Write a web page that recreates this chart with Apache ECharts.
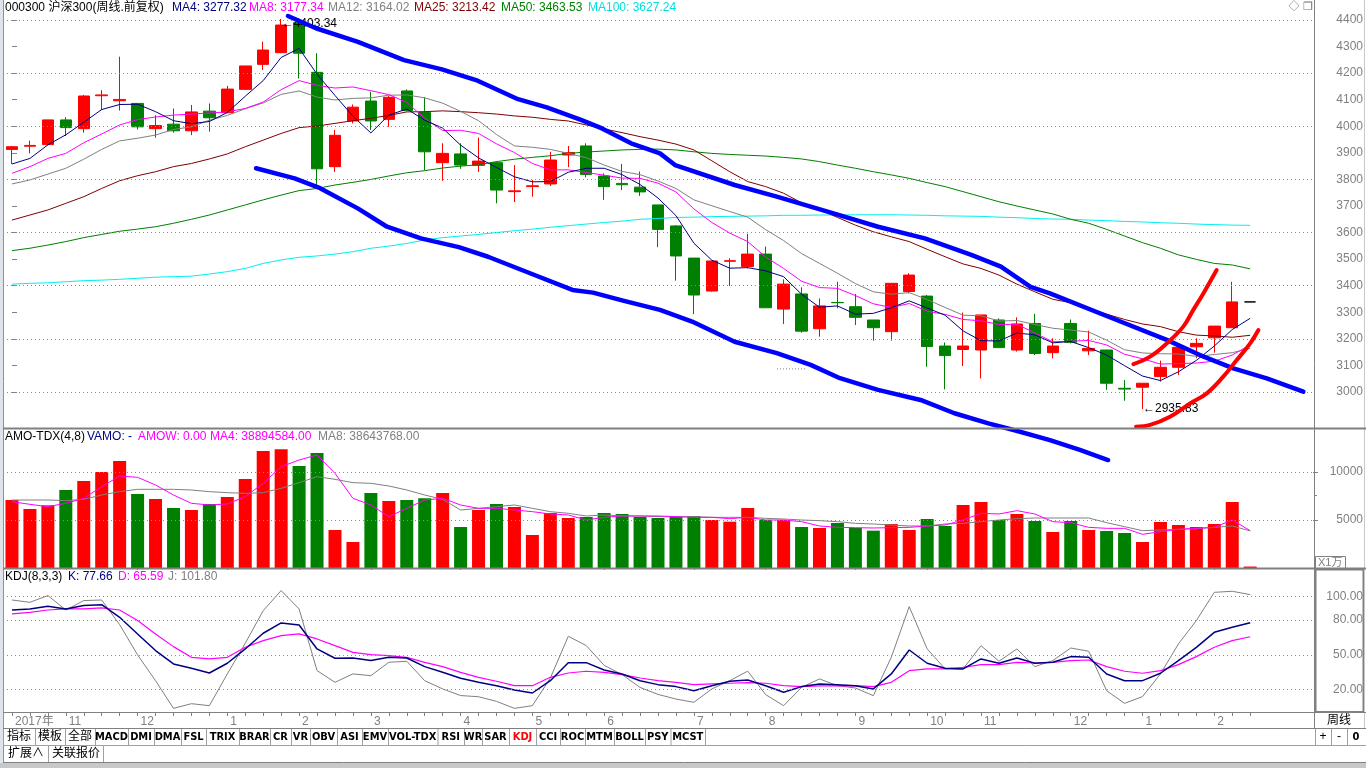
<!DOCTYPE html>
<html><head><meta charset="utf-8">
<script src="https://cdn.jsdelivr.net/npm/echarts@6/dist/echarts.min.js"></script>
<style>html,body{margin:0;padding:0;background:#fff;overflow:hidden}#c{width:1366px;height:768px}</style>
</head><body><div id="c"></div>
<script>
// ---------------- DATA ----------------
const weeks = ['2017-10-13','2017-10-20','2017-10-27','2017-11-03','2017-11-10','2017-11-17','2017-11-24','2017-12-01','2017-12-08','2017-12-15','2017-12-22','2017-12-29','2018-01-05','2018-01-12','2018-01-19','2018-01-26','2018-02-02','2018-02-09','2018-02-14','2018-02-23','2018-03-02','2018-03-09','2018-03-16','2018-03-23','2018-03-30','2018-04-04','2018-04-13','2018-04-20','2018-04-27','2018-05-04','2018-05-11','2018-05-18','2018-05-25','2018-06-01','2018-06-08','2018-06-15','2018-06-22','2018-06-29','2018-07-06','2018-07-13','2018-07-20','2018-07-27','2018-08-03','2018-08-10','2018-08-17','2018-08-24','2018-08-31','2018-09-07','2018-09-14','2018-09-21','2018-09-28','2018-10-12','2018-10-19','2018-10-26','2018-11-02','2018-11-09','2018-11-16','2018-11-23','2018-11-30','2018-12-07','2018-12-14','2018-12-21','2018-12-28','2019-01-04','2019-01-11','2019-01-18','2019-01-25','2019-02-01','2019-02-15','2019-02-22'];
const emptySlots = ['pad1','pad2','pad3'];
const opens  = [3913,3925,3931,4024,3991,4115,4096,4086,3991,4008,3983,4057,4051,4139,4233,4277,4390,4203,3848,4020,4095,4026,4133,4052,3863,3896,3853,3863,3754,3773,3783,3892,3926,3813,3785,3771,3704,3625,3504,3380,3492,3472,3519,3312,3369,3238,3337,3321,3271,3227,3378,3361,3173,3160,3158,3271,3158,3258,3148,3258,3155,3158,3014,3018,3058,3093,3170,3204,3242,3339];
const closes = [3923,3928,4024,3995,4114,4118,4101,3998,4003,3983,4054,4032,4140,4227,4287,4381,4275,3840,3966,4072,4020,4109,4059,3904,3898,3854,3869,3760,3757,3776,3873,3901,3819,3773,3780,3753,3612,3512,3365,3493,3494,3519,3317,3406,3229,3324,3336,3281,3242,3409,3440,3171,3137,3173,3290,3167,3256,3145,3173,3187,3164,3033,3011,3033,3093,3168,3183,3248,3339,3339];
const lows   = [3858,3898,3928,3963,3976,4061,4059,3988,3957,3976,3967,3980,4049,4137,4212,4275,4180,3773,3828,4011,3986,3998,4056,3835,3795,3840,3828,3710,3715,3735,3775,3846,3808,3723,3760,3738,3545,3419,3293,3378,3399,3465,3317,3256,3223,3208,3315,3252,3193,3193,3371,3095,3010,3098,3051,3167,3152,3139,3127,3183,3139,3008,2967,2935.83,3039,3064,3127,3148,3242,3339];
const highs  = [3926,3946,4024,4034,4118,4136,4262,4086,4042,4067,4080,4086,4152,4227,4318,4403.34,4395,4275,3986,4082,4130,4114,4139,4109,3936,3936,3957,3867,3854,3798,3904,3926,3936,3823,3858,3830,3704,3628,3504,3493,3503,3595,3547,3424,3394,3352,3415,3369,3271,3409,3447,3365,3186,3299,3290,3277,3281,3294,3202,3273,3231,3158,3045,3033,3118,3168,3202,3248,3415,3339];

const ma4   = [3858,3879,3930,3968,4015,4063,4082,4083,4055,4021,4010,4018,4052,4113,4172,4259,4293,4196,4116,4038,3975,4042,4065,4023,3993,3929,3881,3845,3810,3791,3792,3827,3842,3842,3818,3781,3730,3664,3560,3496,3466,3468,3456,3434,3368,3319,3324,3293,3296,3317,3343,3316,3289,3230,3193,3192,3222,3215,3185,3190,3167,3139,3099,3060,3043,3076,3119,3173,3235,3277.32];
const ma8   = [3823,3848,3879,3898,3938,3971,4005,4025,4035,4042,4046,4050,4054,4067,4091,4138,4172,4154,4144,4148,4134,4119,4090,4030,3984,3985,3973,3934,3901,3860,3836,3836,3826,3816,3805,3804,3786,3753,3689,3638,3598,3566,3508,3465,3417,3393,3390,3363,3332,3318,3333,3304,3292,3273,3268,3254,3255,3222,3189,3191,3194,3177,3142,3125,3105,3107,3109,3116,3139,3177.34];
const ma12  = [3783,3798,3820,3842,3876,3913,3945,3955,3967,3988,3998,4023,4041,4066,4088,4120,4133,4110,4099,4105,4107,4117,4118,4107,4087,4056,4021,3969,3926,3921,3913,3898,3882,3854,3830,3818,3794,3766,3723,3701,3679,3658,3611,3570,3521,3484,3447,3408,3377,3368,3374,3348,3318,3289,3287,3267,3269,3254,3240,3233,3226,3195,3159,3147,3144,3143,3134,3141,3148,3164.02];
const ma25  = [3647,3666,3685,3710,3735,3766,3795,3814,3829,3848,3860,3877,3896,3923,3948,3973,3995,4001,4011,4021,4030,4041,4054,4055,4058,4055,4051,4046,4039,4034,4026,4020,4005,3990,3976,3961,3948,3933,3911,3870,3829,3792,3773,3748,3712,3687,3657,3628,3603,3584,3566,3537,3509,3482,3465,3440,3406,3377,3349,3336,3315,3293,3273,3256,3246,3227,3214,3211,3206,3213.42];
const ma50  = [3532,3541,3553,3566,3581,3593,3605,3613,3622,3635,3650,3666,3685,3704,3723,3741,3758,3766,3779,3789,3800,3813,3825,3833,3843,3850,3855,3867,3876,3883,3889,3898,3903,3907,3911,3913,3914,3911,3904,3898,3894,3891,3888,3883,3877,3867,3854,3842,3829,3817,3804,3788,3773,3754,3735,3716,3700,3685,3670,3650,3635,3612,3587,3562,3541,3516,3499,3484,3478,3463.53];
const ma100 = [3406,3409,3411,3415,3419,3421,3424,3428,3432,3434,3436,3444,3453,3465,3484,3497,3507,3512,3519,3528,3541,3549,3559,3572,3581,3587,3593,3600,3607,3613,3620,3626,3632,3638,3643,3650,3653,3657,3658,3660,3661,3662,3663,3665,3665,3666,3666,3667,3667,3667,3666,3665,3663,3662,3661,3658,3656,3653,3651,3650,3647,3645,3642,3640,3637,3635,3632,3630,3628,3627.24];

// volume, unit: 10,000
const volumes = [7083,6146,6528,8125,9063,10000,11146,7708,7188,6250,6042,6667,7396,9271,12188,12361,10625,11979,3958,2708,7813,6979,7083,7257,7813,4271,6042,6667,6354,3438,5729,5208,5313,5729,5625,5313,5208,5313,5417,5000,4826,6250,5000,5000,4271,4167,4688,4167,3889,4583,3958,5104,4375,6563,6875,5000,5625,4896,3750,4896,3958,3854,3646,2708,4792,4479,4271,4583,6875,150];
const volMa4 = [6910,6632,6389,6736,7257,8472,9583,9445,8646,7604,6736,6563,6667,7431,8820,10556,11250,11771,9861,7257,6563,5347,6215,7083,7257,6563,6215,6215,6042,5868,5625,5521,5000,5278,5417,5417,5417,5347,5278,5278,5139,5278,5000,5000,4826,4375,4236,4201,4167,4201,4236,4375,4479,5000,5695,5625,5972,5625,4826,4722,4236,4132,4132,3507,3785,4028,4132,4236,5000,3889];
const volMa8 = [7083,7083,7083,7014,7153,7604,7951,8195,8195,8195,8125,7951,7847,7778,7847,8299,8889,9514,9236,8889,8820,8542,8125,7604,7153,6042,6215,6389,6563,6215,5868,5695,5417,5521,5417,5417,5347,5347,5347,5278,5278,5278,5174,5104,5000,4931,4826,4653,4583,4479,4375,4375,4583,4653,4826,5000,5139,5208,5208,5208,5208,4722,4306,3889,3958,4028,4097,4236,4375,3864];

const kdjK = [88.6,89.5,91.8,89.5,92.4,93.2,82.3,68.0,53.7,42.2,38.5,34.4,42.8,55.1,68.6,77.5,75.7,55.1,47.1,47.3,45.1,47.9,47.3,39.9,35.0,29.9,26.4,23.5,19.8,17.2,27.8,43.3,43.3,37.0,33.6,27.8,24.4,22.7,19.2,23.5,27.3,28.4,23.5,17.8,22.7,25.0,24.4,23.5,20.7,33.6,54.2,42.8,38.5,37.9,46.5,42.8,47.3,42.8,43.6,48.5,47.9,33.6,27.8,27.8,34.2,45.1,56.5,69.4,73.7,77.66];
const kdjD = [85.2,86.6,88.6,89.5,89.5,90.4,88.6,79.5,68.0,57.1,47.9,46.5,47.9,56.5,62.3,66.6,68.0,63.7,57.9,52.2,50.2,49.3,47.9,43.6,39.9,35.0,30.7,27.3,23.5,23.5,30.7,34.4,35.9,35.0,33.0,30.1,27.8,26.4,24.4,25.0,25.6,26.1,25.6,23.5,22.7,23.3,23.3,23.5,22.7,26.4,36.4,37.9,37.9,39.3,41.6,41.6,43.6,43.0,43.6,45.1,45.6,39.9,35.9,34.2,36.4,41.6,48.5,56.5,62.3,65.59];
const kdjJ = [97.2,95.2,101.0,88.6,96.7,97.2,76,50,27.8,4,8,6.3,33.6,60,88,105.3,89.5,36.5,26.4,33.6,32.1,43.6,44.5,27.8,20.7,15,14,10,4,6.3,30,66,58,41,33,22,16,12,9.2,20.7,27.8,36,15.8,6.3,22.1,29.3,23.5,21.5,14.9,47.9,91.5,55.1,37.9,37.9,57.9,44.5,55.1,39.9,45.1,55.9,53.1,19.2,8.3,14.1,33.6,59.4,79.5,103.8,104.7,101.8];

// axis ticks / labels
const monthIdx  = [0,3,7,12,16,20,25,29,33,38,42,47,51,54,59,63,67];
const monthText = ['2017年','11','12','1','2','3','4','5','6','7','8','9','10','11','12','1','2'];
const priceLabels = [3000,3100,3200,3300,3400,3500,3600,3700,3800,3900,4000,4100,4200,4300,4400];
const priceGrid = [3000,3200,3400,3600,3800,4000,4200,4400];
const volLabels = [5000,10000];
const volTicks = [5000,10000];
const kdjLabels = [20,50,80,100];

// hand-drawn annotations (week index, price)
const upperChannel = [[15.38,4415],[16.94,4369],[19.28,4318],[21.85,4249],[23.96,4214],[25.86,4174],[28.2,4102],[29.8,4071],[31.71,4024],[32.88,3992],[34.5,3936],[35.55,3911],[36.11,3898],[36.95,3854],[40.27,3779],[42.62,3735],[45.45,3679],[48.26,3622],[50.87,3578],[53.46,3516],[55.11,3472],[56.76,3396],[57.84,3371],[61.56,3271],[64.35,3196],[66.2,3139],[68.06,3089],[69.92,3051],[71.96,3001]];
const lowerChannel = [[13.6,3842],[15.75,3804],[17.17,3767],[19.27,3691],[20.9,3622],[22.79,3578],[24.9,3545],[26.53,3509],[28.87,3447],[31.23,3384],[32.38,3374],[34.05,3344],[36.11,3309],[37.9,3265],[40.27,3189],[42.62,3146],[44.51,3102],[46.14,3052],[48.26,3008],[50.63,2970],[52.52,2920],[54.41,2882],[55.82,2857],[57.84,2819],[59.51,2782],[61.08,2744]];
const redUpper = [[62.49,3105],[63.42,3133],[64.35,3183],[65.27,3246],[65.83,3309],[66.39,3371],[67.13,3459]];
const redLower = [[62.64,2869],[63.42,2876],[64.53,2907],[65.65,2957],[66.58,2995],[67.5,3058],[68.25,3120],[69.0,3183],[69.46,3233]];
const dottedMark = [[42.63,3087],[44.25,3087]];
const extremes = [{i:15, p:4403.34, t:'←4403.34', dy:5},{i:63, p:2935.83, t:'←2935.83', dy:0}];

// legend texts
const topLegend = [['000300 沪深300(周线.前复权)','#000000'],['MA4: 3277.32','#000080'],['MA8: 3177.34','#ff00ff'],['MA12: 3164.02','#808080'],['MA25: 3213.42','#800000'],['MA50: 3463.53','#008000'],['MA100: 3627.24','#00dede']];
const volLegend = [['AMO-TDX(4,8)','#000000'],['VAMO: -','#000080'],['AMOW: 0.00','#ff00ff'],['MA4: 38894584.00','#ff00ff'],['MA8: 38643768.00','#808080']];
const kdjLegend = [['KDJ(8,3,3)','#000000'],['K: 77.66','#000080'],['D: 65.59','#ff00ff'],['J: 101.80','#808080']];
const tabLabels = ['指标','模板','全部','MACD','DMI','DMA','FSL','TRIX','BRAR','CR','VR','OBV','ASI','EMV','VOL-TDX','RSI','WR','SAR','KDJ','CCI','ROC','MTM','BOLL','PSY','MCST'];

// ---------------- LAYOUT ----------------
const topLegendX = [5,172,249,328,414,501,588];
const volLegendX = [5,87,138,210,318];
const kdjLegendX = [5,68,118,168];
const tabEdges = [3,35,65,95,128,154,181,206,239,270,291,310,337,362,388,437.5,464,482,509,536,560,585,614,645,670.5,705];

const FONT = 'Arial, "Liberation Sans", "Noto Sans CJK SC", sans-serif';
const NARROW = '"Liberation Sans Narrow", "DejaVu Sans Condensed", "Noto Sans CJK SC", sans-serif';
const G = [];
function gl(x1,y1,x2,y2,c,w){G.push({type:'line',silent:true,z:50,shape:{x1:x1,y1:y1,x2:x2,y2:y2},style:{stroke:c,lineWidth:w||1}});}
function gt(x,y,t,c,extra){G.push({type:'text',silent:true,z:51,x:x,y:y,style:Object.assign({text:t,fill:c,font:'12px '+FONT,verticalAlign:'middle',align:'left'},extra||{})});}
function gr(x,y,w,h,fill,stroke,lw){G.push({type:'rect',silent:true,z:49,shape:{x:x,y:y,width:w,height:h},style:{fill:fill||'none',stroke:stroke||'none',lineWidth:lw||1}});}

// frame
gr(0,0,3,763,'#dfe3ea');
gl(3.5,0,3.5,763,'#7d93bd',1);
gl(1314.5,0,1314.5,729,'#808080',1);
gl(1364.5,0,1364.5,729,'#c8c8c8',1);
gl(3,428.5,1366,428.5,'#808080',2);
gl(3,568.5,1366,568.5,'#808080',2);
gl(3,712.5,1366,712.5,'#808080',1);
gl(3,728.5,1366,728.5,'#808080',1);
gl(3,745.5,1366,745.5,'#a0a0a0',1);
gl(3,762.5,1366,762.5,'#808080',1);
gr(0,763,1366,5,'#c8c8c8');
gr(1315.5,569.5,48,142.5,null,'#808080',2);
gr(1315.5,556.5,30,12,'#ffffff','#808080',1);
gt(1318,562.5,'X1万','#808080',{font:'11px '+FONT});
gl(1314,495.5,1317,495.5,'#808080',1);
gt(1339,721,'周线','#000000',{align:'center'});
gt(1294,7,'◇','#707070',{align:'center',font:'11px '+FONT});
gt(1308,7,'❐','#707070',{align:'center',font:'11px '+FONT});

// legends
topLegend.forEach((d,k)=>gt(topLegendX[k],8,d[0],d[1]));
volLegend.forEach((d,k)=>gt(volLegendX[k],437,d[0],d[1]));
kdjLegend.forEach((d,k)=>gt(kdjLegendX[k],577,d[0],d[1]));

// tab row
tabLabels.forEach((t,k)=>{
  const cx=(tabEdges[k]+tabEdges[k+1])/2;
  const cjk=/[\u4e00-\u9fff]/.test(t);
  gt(cx,737,t,t==='KDJ'?'#ff0000':'#000000',{align:'center',font:cjk?('12px '+FONT):('bold 11px '+NARROW)});
});
tabEdges.forEach(x=>gl(x+0.5,729,x+0.5,745,'#a0a0a0',1));
[1315,1331,1347].forEach(x=>gl(x+0.5,729,x+0.5,745,'#a0a0a0',1));
gt(1323,737,'+','#000',{align:'center'});
gt(1339,737,'-','#000',{align:'center'});
gt(1356,737,'0','#000',{align:'center',font:'bold 11px '+NARROW});
gl(48.5,746,48.5,762,'#a0a0a0',1);
gl(103.5,746,103.5,762,'#a0a0a0',1);
gt(26,754,'扩展∧','#000',{align:'center'});
gt(76,754,'关联报价','#000',{align:'center'});

// ---------------- OPTION ----------------
const cats = weeks.concat(emptySlots);
const candleData = opens.map((o,i)=>{
  const v=[o,closes[i],lows[i],highs[i]];
  if(o===closes[i] && highs[i]===lows[i]) return {value:v,itemStyle:{color:'#000',color0:'#000',borderColor:'#000',borderColor0:'#000',borderColorDoji:'#000'}};
  return v;
});
const volData = volumes.map((v,i)=>({value:v,itemStyle:{color:closes[i]>=opens[i]?'#ff0000':'#008000'}}));
const dotted = {color:'#8c8c8c',type:[1,3],width:1};
function gridLines(vals,xi,yi){
  return {type:'line',xAxisIndex:xi,yAxisIndex:yi,data:[],silent:true,symbol:'none',z:0,
    markLine:{silent:true,symbol:['none','none'],label:{show:false},lineStyle:dotted,animation:false,data:vals.map(v=>({yAxis:v}))}};
}
function maLine(d,c,xi,yi,w){return {type:'line',xAxisIndex:xi,yAxisIndex:yi,data:d,symbol:'none',silent:true,lineStyle:{color:c,width:w||1},z:3};}
function drawLine(d,c,w,extra){return Object.assign({type:'line',xAxisIndex:1,yAxisIndex:0,data:d,symbol:'none',silent:true,clip:false,lineStyle:{color:c,width:w,cap:'round',join:'round'},z:10},extra||{});}
const axLab = {color:'#808080',fontSize:12,fontFamily:FONT,align:'right',margin:50,formatter:(v)=>String(v)};

const option = {
  animation:false,
  backgroundColor:'#ffffff',
  textStyle:{fontFamily:FONT},
  grid:[
    {left:3,width:1310,top:12,height:416},
    {left:3,width:1310,top:429,height:139},
    {left:3,width:1310,top:570,height:143}
  ],
  xAxis:[
    {type:'category',gridIndex:0,data:cats,boundaryGap:true,axisLine:{show:false},axisTick:{show:false},axisLabel:{show:false},splitLine:{show:false}},
    {type:'value',gridIndex:0,min:-0.5,max:cats.length-0.5,show:false},
    {type:'category',gridIndex:1,data:cats,boundaryGap:true,axisLine:{show:false},axisTick:{show:false},axisLabel:{show:false},splitLine:{show:false}},
    {type:'category',gridIndex:2,data:cats,boundaryGap:true,axisLine:{show:false},
      axisTick:{show:true,alignWithLabel:true,interval:(i)=>i<weeks.length,length:3,lineStyle:{color:'#808080'}},
      axisLabel:{show:true,interval:(i)=>monthIdx.indexOf(i)>=0,formatter:(v,i)=>{const k=monthIdx.indexOf(i);return k>=0?monthText[k]:'';},align:'left',padding:[0,0,0,3],margin:3,color:'#808080',fontSize:12,fontFamily:FONT},
      splitLine:{show:false}},
    {type:'category',gridIndex:2,data:cats,boundaryGap:true,axisLine:{show:false},
      axisTick:{show:true,alignWithLabel:true,interval:(i)=>i>0&&monthIdx.indexOf(i)>=0,length:16,lineStyle:{color:'#808080'}},
      axisLabel:{show:false},splitLine:{show:false}}
  ],
  yAxis:[
    {type:'value',gridIndex:0,position:'right',min:2864.5,max:4430.1,scale:true,axisLine:{show:false},splitLine:{show:false},
      axisTick:{show:true,customValues:priceLabels,length:5,lineStyle:{color:'#808080'}},
      axisLabel:Object.assign({customValues:priceLabels},axLab)},
    {type:'value',gridIndex:1,position:'right',min:0,max:14479,axisLine:{show:false},splitLine:{show:false},
      axisTick:{show:true,customValues:volTicks,length:5,lineStyle:{color:'#808080'}},
      axisLabel:Object.assign({customValues:volLabels},axLab)},
    {type:'value',gridIndex:2,position:'right',min:0,max:123,axisLine:{show:false},splitLine:{show:false},
      axisTick:{show:false},
      axisLabel:Object.assign({},axLab,{customValues:kdjLabels,formatter:(v)=>v.toFixed(2)})}
  ],
  graphic:{elements:G},
  series:[
    gridLines(priceGrid,0,0),
    {type:'candlestick',xAxisIndex:0,yAxisIndex:0,data:candleData,barWidth:12,silent:true,z:2,
      itemStyle:{color:'#ff0000',color0:'#008000',borderColor:'#ff0000',borderColor0:'#008000',borderWidth:1},
      markPoint:{silent:true,symbol:'rect',symbolSize:1,itemStyle:{color:'rgba(0,0,0,0)'},animation:false,
        data:extremes.map(e=>({coord:[weeks[e.i],e.p],label:{show:true,position:'right',distance:0,offset:[0,e.dy],formatter:e.t,color:'#000',fontSize:12,fontFamily:FONT}}))}},
    maLine(ma100,'#00f0f0',0,0),
    maLine(ma50,'#008000',0,0),
    maLine(ma25,'#800000',0,0),
    maLine(ma12,'#808080',0,0),
    maLine(ma8,'#ff00ff',0,0),
    maLine(ma4,'#000080',0,0),
    drawLine(dottedMark,'#808080',1,{lineStyle:{color:'#808080',width:1,type:[1,2]}}),
    drawLine(upperChannel,'#0000ff',4.5),
    drawLine(lowerChannel,'#0000ff',4.5),
    drawLine(redUpper,'#ff0000',4,{smooth:0.4}),
    drawLine(redLower,'#ff0000',4,{smooth:0.4}),
    gridLines(volLabels,2,1),
    {type:'bar',xAxisIndex:2,yAxisIndex:1,data:volData,barWidth:13,silent:true,z:2},
    maLine(volMa8,'#808080',2,1),
    maLine(volMa4,'#ff00ff',2,1),
    gridLines(kdjLabels,3,2),
    maLine(kdjJ,'#808080',3,2),
    maLine(kdjD,'#ff00ff',3,2,1.2),
    maLine(kdjK,'#000080',3,2,1.5)
  ]
};
const chart = echarts.init(document.getElementById('c'),null,{renderer:'canvas',width:1366,height:768});
chart.setOption(option);
</script>
</body></html>
